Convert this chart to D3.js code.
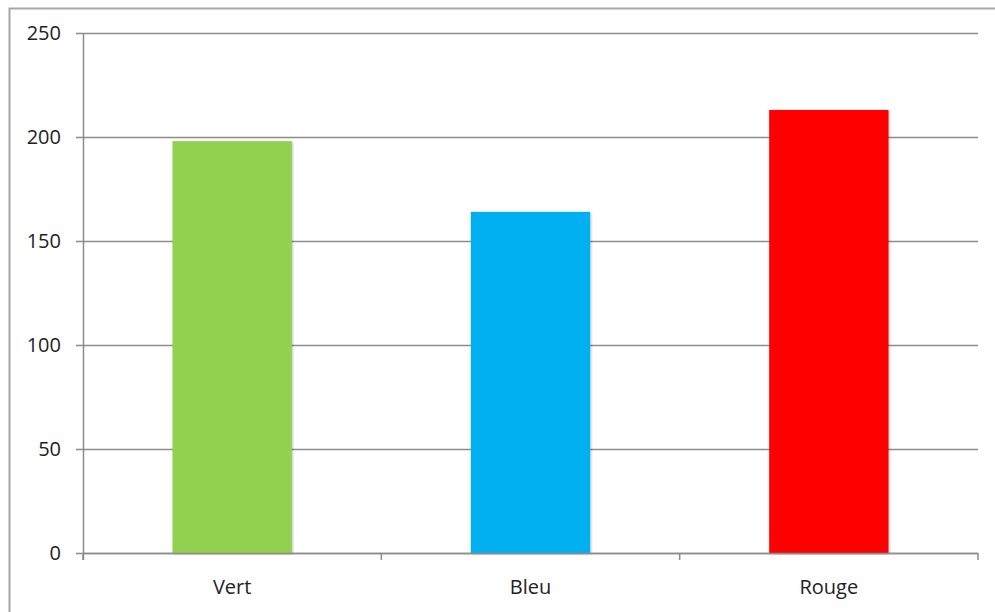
<!DOCTYPE html>
<html>
<head>
<meta charset="utf-8">
<script src="https://cdn.jsdelivr.net/npm/d3@7"></script>
<style>
  body { margin: 0; background: #fff; }
  svg { display: block; }
  text { font-family: "Open Sans", "Liberation Sans", sans-serif; fill: #222; }
</style>
</head>
<body>
<svg id="chart" width="995" height="612"></svg>
<script>
const categories = ["Vert", "Bleu", "Rouge"];
const values = [198, 164, 213];
const colors = ["#92D050", "#00B0F0", "#FF0000"];
const yTicks = [0, 50, 100, 150, 200, 250];

const svg = d3.select("#chart");
const W = 995, H = 612;
const m = { left: 83, right: 17, top: 33, bottom: 59 };

// outer chart border (cut off on right and bottom)
svg.append("rect")
  .attr("x", 9.5).attr("y", 8.5)
  .attr("width", W + 20).attr("height", H + 20)
  .attr("fill", "none").attr("stroke", "#a6a6a6").attr("stroke-width", 2);

const x = d3.scaleBand()
  .domain(categories)
  .range([m.left, W - m.right])
  .paddingInner(0.6).paddingOuter(0.3);

const y = d3.scaleLinear().domain([0, 250]).range([H - m.bottom, m.top]);

// gridlines
svg.append("g")
  .selectAll("line")
  .data(yTicks)
  .join("line")
  .attr("x1", m.left - 7).attr("x2", W - m.right)
  .attr("y1", d => Math.round(y(d)) + 0.5).attr("y2", d => Math.round(y(d)) + 0.5)
  .attr("stroke", "#8c8c8c").attr("stroke-width", 1.5);

// y labels
svg.append("g")
  .selectAll("text")
  .data(yTicks)
  .join("text")
  .attr("x", 61).attr("y", d => y(d))
  .attr("dy", "0.36em")
  .attr("text-anchor", "end")
  .attr("font-size", 20)
  .text(d => d);

// y axis line
svg.append("line")
  .attr("x1", m.left + 0.5).attr("x2", m.left + 0.5)
  .attr("y1", y(250)).attr("y2", y(0) + 7)
  .attr("stroke", "#8c8c8c").attr("stroke-width", 1.5);

// shadow filter
const defs = svg.append("defs");
const f = defs.append("filter").attr("id", "sh").attr("x", "-10%").attr("y", "-10%").attr("width", "120%").attr("height", "120%");
f.append("feDropShadow").attr("dx", 1).attr("dy", 1).attr("stdDeviation", 1.2).attr("flood-color", "#000").attr("flood-opacity", 0.25);

// bars
svg.append("g")
  .selectAll("rect")
  .data(values)
  .join("rect")
  .attr("x", (d, i) => x(categories[i]))
  .attr("width", x.bandwidth())
  .attr("y", d => y(d))
  .attr("height", d => y(0) - y(d))
  .attr("fill", (d, i) => colors[i])
  .attr("filter", "url(#sh)");

// x axis line and ticks
svg.append("line")
  .attr("x1", m.left).attr("x2", W - m.right)
  .attr("y1", Math.round(y(0)) + 0.5).attr("y2", Math.round(y(0)) + 0.5)
  .attr("stroke", "#8c8c8c").attr("stroke-width", 1.5);

const boundaries = categories.map((c, i) => x.step() * (i + 1) + m.left);
svg.append("g")
  .selectAll("line")
  .data([m.left].concat(boundaries))
  .join("line")
  .attr("x1", d => d).attr("x2", d => d)
  .attr("y1", y(0)).attr("y2", y(0) + 7)
  .attr("stroke", "#8c8c8c").attr("stroke-width", 1.5);

// x labels
svg.append("g")
  .selectAll("text")
  .data(categories)
  .join("text")
  .attr("x", d => x(d) + x.bandwidth() / 2)
  .attr("y", 587)
  .attr("dy", "0.36em")
  .attr("text-anchor", "middle")
  .attr("font-size", 20)
  .text(d => d);
</script>
</body>
</html>
